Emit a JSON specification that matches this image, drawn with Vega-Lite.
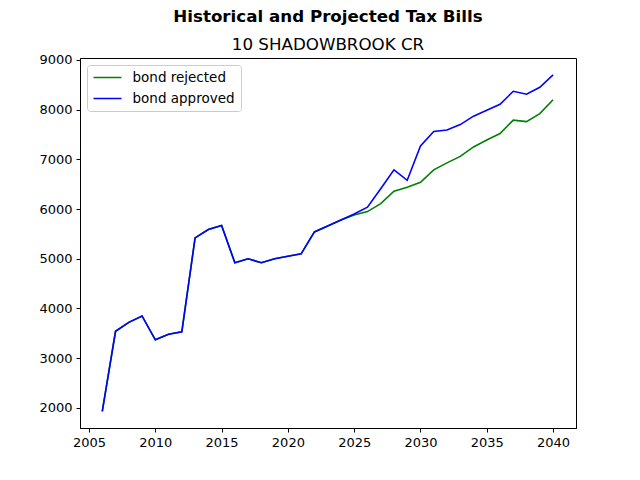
{
  "$schema": "https://vega.github.io/schema/vega-lite/v6.json",
  "autosize": "none",
  "padding": {"left": 80, "top": 58, "right": 64, "bottom": 52},
  "width": 496,
  "height": 370,
  "title": {
    "text": "Historical and Projected Tax Bills",
    "subtitle": "10 SHADOWBROOK CR",
    "anchor": "middle",
    "font": "DejaVu Sans",
    "fontSize": 16.7,
    "fontWeight": "bold",
    "color": "black",
    "subtitleFont": "DejaVu Sans",
    "subtitleFontSize": 16.7,
    "subtitleColor": "black",
    "subtitlePadding": 12,
    "offset": 0
  },
  "data": {
    "values": [
      {"year": 2006, "scenario": "bond rejected", "tax": 1930},
      {"year": 2007, "scenario": "bond rejected", "tax": 3540},
      {"year": 2008, "scenario": "bond rejected", "tax": 3720},
      {"year": 2009, "scenario": "bond rejected", "tax": 3850},
      {"year": 2010, "scenario": "bond rejected", "tax": 3370},
      {"year": 2011, "scenario": "bond rejected", "tax": 3480},
      {"year": 2012, "scenario": "bond rejected", "tax": 3530},
      {"year": 2013, "scenario": "bond rejected", "tax": 5420},
      {"year": 2014, "scenario": "bond rejected", "tax": 5590},
      {"year": 2015, "scenario": "bond rejected", "tax": 5670},
      {"year": 2016, "scenario": "bond rejected", "tax": 4920},
      {"year": 2017, "scenario": "bond rejected", "tax": 5000},
      {"year": 2018, "scenario": "bond rejected", "tax": 4920},
      {"year": 2019, "scenario": "bond rejected", "tax": 5000},
      {"year": 2020, "scenario": "bond rejected", "tax": 5050},
      {"year": 2021, "scenario": "bond rejected", "tax": 5100},
      {"year": 2022, "scenario": "bond rejected", "tax": 5540},
      {"year": 2023, "scenario": "bond rejected", "tax": 5660},
      {"year": 2024, "scenario": "bond rejected", "tax": 5780},
      {"year": 2025, "scenario": "bond rejected", "tax": 5880},
      {"year": 2026, "scenario": "bond rejected", "tax": 5950},
      {"year": 2027, "scenario": "bond rejected", "tax": 6110},
      {"year": 2028, "scenario": "bond rejected", "tax": 6360},
      {"year": 2029, "scenario": "bond rejected", "tax": 6440},
      {"year": 2030, "scenario": "bond rejected", "tax": 6540},
      {"year": 2031, "scenario": "bond rejected", "tax": 6790},
      {"year": 2032, "scenario": "bond rejected", "tax": 6930},
      {"year": 2033, "scenario": "bond rejected", "tax": 7060},
      {"year": 2034, "scenario": "bond rejected", "tax": 7250},
      {"year": 2035, "scenario": "bond rejected", "tax": 7390},
      {"year": 2036, "scenario": "bond rejected", "tax": 7520},
      {"year": 2037, "scenario": "bond rejected", "tax": 7790},
      {"year": 2038, "scenario": "bond rejected", "tax": 7760},
      {"year": 2039, "scenario": "bond rejected", "tax": 7920},
      {"year": 2040, "scenario": "bond rejected", "tax": 8200},
      {"year": 2006, "scenario": "bond approved", "tax": 1930},
      {"year": 2007, "scenario": "bond approved", "tax": 3540},
      {"year": 2008, "scenario": "bond approved", "tax": 3720},
      {"year": 2009, "scenario": "bond approved", "tax": 3850},
      {"year": 2010, "scenario": "bond approved", "tax": 3370},
      {"year": 2011, "scenario": "bond approved", "tax": 3480},
      {"year": 2012, "scenario": "bond approved", "tax": 3530},
      {"year": 2013, "scenario": "bond approved", "tax": 5420},
      {"year": 2014, "scenario": "bond approved", "tax": 5590},
      {"year": 2015, "scenario": "bond approved", "tax": 5670},
      {"year": 2016, "scenario": "bond approved", "tax": 4920},
      {"year": 2017, "scenario": "bond approved", "tax": 5000},
      {"year": 2018, "scenario": "bond approved", "tax": 4920},
      {"year": 2019, "scenario": "bond approved", "tax": 5000},
      {"year": 2020, "scenario": "bond approved", "tax": 5050},
      {"year": 2021, "scenario": "bond approved", "tax": 5100},
      {"year": 2022, "scenario": "bond approved", "tax": 5540},
      {"year": 2023, "scenario": "bond approved", "tax": 5660},
      {"year": 2024, "scenario": "bond approved", "tax": 5780},
      {"year": 2025, "scenario": "bond approved", "tax": 5900},
      {"year": 2026, "scenario": "bond approved", "tax": 6040},
      {"year": 2027, "scenario": "bond approved", "tax": 6410},
      {"year": 2028, "scenario": "bond approved", "tax": 6790},
      {"year": 2029, "scenario": "bond approved", "tax": 6580},
      {"year": 2030, "scenario": "bond approved", "tax": 7270},
      {"year": 2031, "scenario": "bond approved", "tax": 7560},
      {"year": 2032, "scenario": "bond approved", "tax": 7590},
      {"year": 2033, "scenario": "bond approved", "tax": 7700},
      {"year": 2034, "scenario": "bond approved", "tax": 7870},
      {"year": 2035, "scenario": "bond approved", "tax": 7990},
      {"year": 2036, "scenario": "bond approved", "tax": 8110},
      {"year": 2037, "scenario": "bond approved", "tax": 8370},
      {"year": 2038, "scenario": "bond approved", "tax": 8310},
      {"year": 2039, "scenario": "bond approved", "tax": 8450},
      {"year": 2040, "scenario": "bond approved", "tax": 8700}
    ]
  },
  "mark": {"type": "line", "strokeWidth": 1.6},
  "encoding": {
    "x": {
      "field": "year",
      "type": "quantitative",
      "scale": {"domain": [2004.32, 2041.73], "nice": false, "zero": false},
      "axis": {"values": [2005, 2010, 2015, 2020, 2025, 2030, 2035, 2040], "format": "d", "title": null}
    },
    "y": {
      "field": "tax",
      "type": "quantitative",
      "scale": {"domain": [1595, 9040], "nice": false, "zero": false},
      "axis": {"values": [2000, 3000, 4000, 5000, 6000, 7000, 8000, 9000], "format": "d", "title": null}
    },
    "color": {
      "field": "scenario",
      "type": "nominal",
      "scale": {"domain": ["bond rejected", "bond approved"], "range": ["#008000", "#0000ff"]},
      "legend": {
        "title": null,
        "orient": "top-left",
        "offset": 7,
        "symbolType": "stroke",
        "symbolSize": 784,
        "symbolStrokeWidth": 1.6,
        "clipHeight": 14,
        "strokeColor": "#cccccc",
        "fillColor": "white",
        "cornerRadius": 3,
        "padding": 5.5,
        "rowPadding": 7,
        "labelOffset": 10
      }
    }
  },
  "config": {
    "font": "DejaVu Sans",
    "view": {"stroke": "black", "strokeWidth": 1},
    "axis": {
      "grid": false,
      "domainColor": "black",
      "tickColor": "black",
      "tickSize": 4,
      "labelColor": "black",
      "labelFont": "DejaVu Sans",
      "labelFontSize": 13,
      "labelPadding": 4
    },
    "legend": {"labelFont": "DejaVu Sans", "labelFontSize": 13.5, "labelColor": "black"}
  }
}
